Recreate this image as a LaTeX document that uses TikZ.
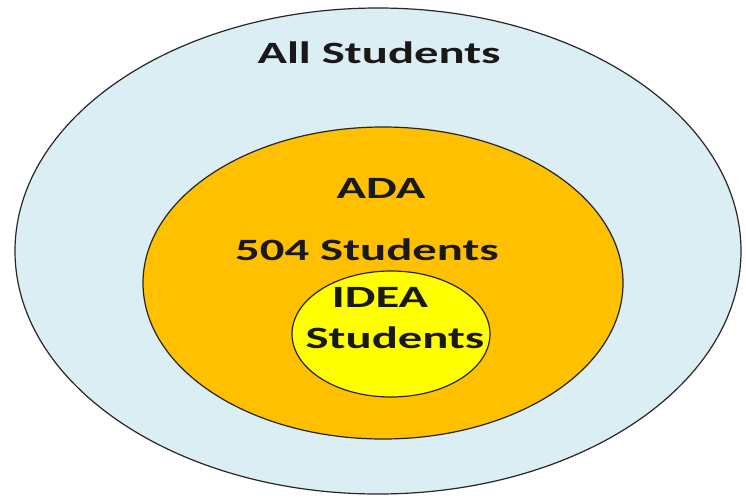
\documentclass[tikz,border=0pt]{standalone}
\usepackage{fontspec}
\setmainfont{Carlito}
\begin{document}
\begin{tikzpicture}[x=1pt,y=-1pt,
  ring/.style={draw=black!85,line width=1.2pt},
  label/.style={font=\bfseries\fontsize{31}{31}\selectfont,text=black!90,anchor=base,inner sep=0pt,xscale=1.57}]
  \useasboundingbox (0,0) rectangle (746,498);
  % nested sets
  \draw[ring,fill={rgb,255:red,218;green,238;blue,243}] (378,251) ellipse [x radius=363,y radius=243];
  \draw[ring,fill={rgb,255:red,255;green,192;blue,0}] (383,283) ellipse [x radius=240,y radius=156];
  \draw[ring,fill={rgb,255:red,255;green,255;blue,0}] (391,334) ellipse [x radius=99,y radius=63];
  % labels
  \node[label] (all) at (379,63) {All Students};
  \node[label] (ada) at (381,198) {ADA};
  \node[label] (sec) at (367,260) {504 Students};
  \node[label] (idea) at (380,307) {IDEA};
  \node[label] (ideas) at (395,348) {Students};
\end{tikzpicture}
\end{document}
